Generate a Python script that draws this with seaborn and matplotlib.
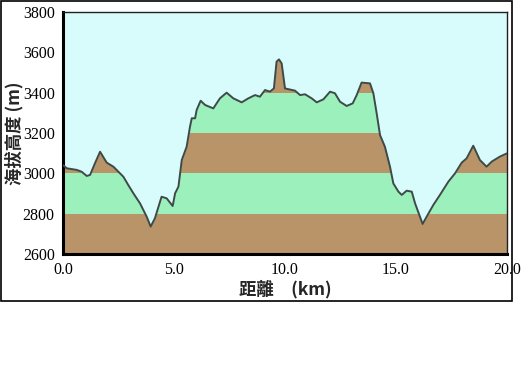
import numpy as np
import pandas as pd
import matplotlib
matplotlib.use("Agg")
import matplotlib.pyplot as plt
import seaborn as sns
from matplotlib.patches import Rectangle

dist_km = [0.0, 0.17, 0.62, 0.84, 1.07, 1.22, 1.44, 1.67, 1.97, 2.27, 2.72, 2.94, 3.17, 3.47,
           3.77, 3.95, 4.14, 4.44, 4.67, 4.94, 5.05, 5.20, 5.35, 5.57, 5.72, 5.80, 5.95, 6.02,
           6.20, 6.40, 6.77, 7.07, 7.37, 7.67, 8.05, 8.35, 8.65, 8.87, 9.10, 9.32, 9.50, 9.62,
           9.73, 9.85, 10.00, 10.45, 10.68, 10.90, 11.20, 11.43, 11.73, 12.03, 12.25, 12.48,
           12.78, 13.05, 13.23, 13.45, 13.83, 13.98, 14.13, 14.28, 14.50, 14.73, 14.88, 15.11,
           15.26, 15.48, 15.71, 15.86, 16.08, 16.20, 16.38, 16.68, 16.98, 17.36, 17.66, 17.96,
           18.18, 18.48, 18.78, 19.08, 19.31, 19.68, 20.0]
elev_m = [3041, 3025, 3017, 3008, 2987, 2992, 3050, 3107, 3053, 3033, 2983, 2942, 2901, 2851,
          2785, 2736, 2777, 2884, 2876, 2838, 2901, 2934, 3066, 3132, 3231, 3273, 3273, 3314,
          3360, 3339, 3322, 3372, 3400, 3372, 3352, 3372, 3388, 3380, 3413, 3405, 3421, 3554,
          3565, 3545, 3421, 3410, 3388, 3392, 3372, 3352, 3367, 3405, 3397, 3355,
          3334, 3347, 3388, 3450, 3446, 3397, 3297, 3190, 3132, 3033, 2950, 2909,
          2893, 2914, 2909, 2851, 2785, 2749, 2785, 2843, 2893, 2959, 3000, 3053,
          3074, 3137, 3066, 3033, 3058, 3083, 3099]
band_edges = [2600, 2800, 3000, 3200, 3400, 3600, 3800]
x_ticks = [0, 5, 10, 15, 20]
x_ticklabels = ["0.0", "5.0", "10.0", "15.0", "20.0"]
y_ticks = [2600, 2800, 3000, 3200, 3400, 3600, 3800]

BG = "#D8FCFC"
GREEN = "#9CF0BC"
BROWN = "#B89468"
LINE = "#3E4A48"

sns.set_theme(style="white")
plt.rcParams['font.family'] = ['Liberation Serif', 'Noto Sans CJK TC', 'DejaVu Sans']

df = pd.DataFrame({"dist": dist_km, "elev": elev_m})

fig = plt.figure(figsize=(5.22, 3.87), dpi=100)
fig.patch.set_facecolor("white")
fig.patches.append(Rectangle((0.5/522, 1 - 301/387), 511/522, 300/387, transform=fig.transFigure,
                             fill=False, edgecolor="black", linewidth=1.2))
ax = fig.add_axes([63/522, 1 - 254/387, 444/522, 242/387])

for i in range(len(band_edges) - 1):
    ax.axhspan(band_edges[i], band_edges[i + 1], color=BROWN if i % 2 == 0 else GREEN,
               linewidth=0, zorder=0)
ax.fill_between(df["dist"], df["elev"], 3800, color=BG, linewidth=0, zorder=1)
sns.lineplot(data=df, x="dist", y="elev", ax=ax, color=LINE, linewidth=1.4, zorder=3)

ax.set_xlim(0, 20)
ax.set_ylim(2600, 3800)
ax.set_xticks(x_ticks)
ax.set_xticklabels(x_ticklabels)
ax.set_yticks(y_ticks)
ax.tick_params(axis="both", direction="out", length=5, width=1.6, color="black",
               labelsize=11.5, labelcolor="black", pad=1)
for s in ["left", "bottom"]:
    ax.spines[s].set_linewidth(2.2)
    ax.spines[s].set_color("black")
for s in ["top", "right"]:
    ax.spines[s].set_linewidth(1.0)
    ax.spines[s].set_color("#202020")

ax.set_xlabel("距離\u3000(km)", fontsize=12.5, fontweight="bold",
              family=['Noto Sans CJK TC', 'Liberation Serif'], labelpad=0)
ax.set_ylabel("海拔高度 (m)", fontsize=12.5, fontweight="bold",
              family=['Noto Sans CJK TC', 'Liberation Serif'], labelpad=0)
ax.xaxis.set_label_coords(0.5, -0.105)
ax.yaxis.set_label_coords(-0.09, 0.5)

fig.savefig("out.png", dpi=100)
